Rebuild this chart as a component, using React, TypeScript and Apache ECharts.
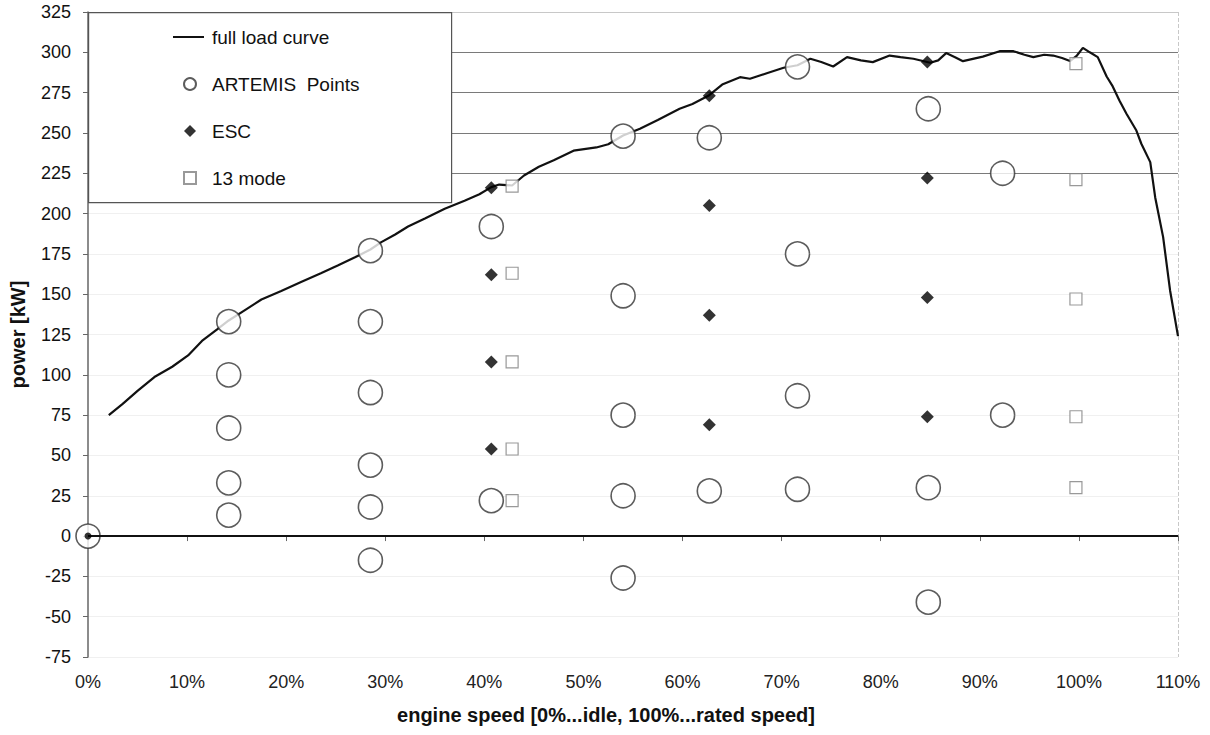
import React, { useEffect, useRef } from "react";
import * as echarts from "echarts";

// full load curve: [engine speed %, power kW]
const fullLoadCurve: [number, number][] = [
  [2.1, 75], [3.5, 82], [5, 90], [6.7, 98.6], [8.5, 105], [10.1, 112], [11.5, 121],
  [13, 128], [14.2, 133.7], [15.8, 140], [17.5, 146.7], [19.5, 152], [21.5, 157.5],
  [23.5, 163], [25.2, 167.8], [27, 173], [28.5, 177.7], [29.6, 182.3], [31, 187],
  [32.3, 192], [34, 197], [36, 203], [38, 208], [39.5, 212], [40.7, 216.4], [41.5, 218],
  [42.8, 217.4], [44, 223.6], [45.5, 229], [47, 233], [49, 239], [51.3, 241],
  [52.5, 243], [54, 248.4], [55.7, 252.6], [57.5, 258], [59.7, 265], [61, 268],
  [62.6, 273], [64, 280], [65.8, 284.6], [66.8, 283.6], [68.5, 287], [70.2, 290.4],
  [71.6, 292], [72.9, 296], [74, 294], [75.2, 291.2], [76.6, 297], [78, 295],
  [79.2, 293.9], [80.9, 298], [82, 297], [83.3, 296], [85, 293.5], [85.8, 295],
  [86.6, 299.5], [87.5, 297], [88.3, 294.5], [90.3, 297.3], [92, 300.7], [93.4, 300.7],
  [94.5, 298.5], [95.4, 297], [96.5, 298.5], [97.4, 298], [98.3, 296.5], [99.1, 294.6],
  [99.8, 298], [100.4, 302.8], [101.1, 300], [101.9, 297], [102.8, 285], [103.4, 279],
  [104.1, 270], [104.8, 261.9], [105.8, 251.5], [106.3, 243.3], [107.2, 231.9],
  [107.7, 210], [108.5, 185.4], [109.2, 152.3], [110, 124],
];

const artemisPoints: [number, number][] = [
  [0, 0],
  [14.2, 133], [14.2, 100], [14.2, 67], [14.2, 33], [14.2, 13],
  [28.5, 177], [28.5, 133], [28.5, 89], [28.5, 44], [28.5, 18], [28.5, -15],
  [40.7, 192], [40.7, 22],
  [54, 248], [54, 149], [54, 75], [54, 25], [54, -26],
  [62.7, 247], [62.7, 28],
  [71.6, 291], [71.6, 175], [71.6, 87], [71.6, 29],
  [84.8, 265], [84.8, 30], [84.8, -41],
  [92.3, 225], [92.3, 75],
];

const escPoints: [number, number][] = [
  [0, 0],
  [40.7, 216], [40.7, 162], [40.7, 108], [40.7, 54],
  [62.7, 273], [62.7, 205], [62.7, 137], [62.7, 69],
  [84.7, 294], [84.7, 222], [84.7, 148], [84.7, 74],
];

const mode13Points: [number, number][] = [
  [42.8, 217], [42.8, 163], [42.8, 108], [42.8, 54], [42.8, 22],
  [99.7, 293], [99.7, 221], [99.7, 147], [99.7, 74], [99.7, 30],
];

const legendNames = ["full load curve", "ARTEMIS  Points", "ESC", "13 mode"];

const FONT = "'Liberation Sans', Arial, sans-serif";

// y split line colours, from -75 up to 325
const ySplitColors = [
  "#f0f0f0", "#f0f0f0", "#f0f0f0", "#f0f0f0", "#f0f0f0", "#f0f0f0", "#f0f0f0",
  "#f0f0f0", "#f0f0f0", "#f0f0f0", "#f0f0f0", "#f0f0f0",
  "#7a7a7a", "#7a7a7a", "#7a7a7a", "#7a7a7a", "#c8c8c8",
];
const xSplitColors = [
  "rgba(0,0,0,0)", "rgba(0,0,0,0)", "rgba(0,0,0,0)", "rgba(0,0,0,0)",
  "rgba(0,0,0,0)", "rgba(0,0,0,0)", "rgba(0,0,0,0)", "rgba(0,0,0,0)",
  "rgba(0,0,0,0)", "rgba(0,0,0,0)", "rgba(0,0,0,0)", "#c8c8c8",
];

export default function App() {
  const ref = useRef<HTMLDivElement>(null);
  useEffect(() => {
    document.body.style.margin = "0";
    if (!ref.current) return;
    const chart = echarts.init(ref.current, undefined, { renderer: "svg" });
    const legendText = { fontFamily: FONT, fontSize: 19, color: "#111", lineHeight: 20 };
    chart.setOption({
      animation: false,
      backgroundColor: "#ffffff",
      textStyle: { fontFamily: FONT },
      grid: { left: 88, right: 32, top: 12, bottom: 78, containLabel: false },
      graphic: [
        {
          type: "rect",
          left: 88,
          top: 12,
          shape: { width: 363, height: 190 },
          style: { fill: "#ffffff", stroke: "#555555", lineWidth: 1.2 },
          z: 3,
        },
      ],
      legend: [
        {
          orient: "vertical",
          left: 172,
          top: 27,
          padding: 0,
          itemWidth: 31,
          itemHeight: 12,
          selectedMode: false,
          z: 4,
          data: [
            { name: legendNames[0], itemStyle: { color: "rgba(0,0,0,0)", borderWidth: 0 } },
          ],
          textStyle: { ...legendText, padding: [0, 0, 0, 3] },
        },
        {
          orient: "vertical",
          left: 183,
          top: 74,
          padding: 0,
          itemWidth: 12,
          itemHeight: 12,
          itemGap: 27,
          selectedMode: false,
          z: 4,
          data: [
            { name: legendNames[1], icon: "circle" },
            { name: legendNames[2], icon: "diamond" },
            { name: legendNames[3], icon: "rect" },
          ],
          textStyle: { ...legendText, padding: [0, 0, 0, 11] },
        },
      ],
      xAxis: {
        type: "value",
        min: 0,
        max: 110,
        interval: 10,
        name: "engine speed [0%...idle, 100%...rated speed]",
        nameLocation: "middle",
        nameGap: 48,
        nameTextStyle: { fontFamily: FONT, fontSize: 20, fontWeight: "bold", color: "#111", padding: [0, 54, 0, 0] },
        axisLine: { show: true, lineStyle: { color: "#666", width: 1.5 } },
        axisTick: { show: true, length: 5, lineStyle: { color: "#666" } },
        axisLabel: { fontFamily: FONT, fontSize: 18, color: "#222", margin: 16, formatter: (v: number) => `${v}%` },
        splitLine: { show: true, lineStyle: { color: xSplitColors, type: "dashed", width: 1 } },
      },
      yAxis: {
        type: "value",
        min: -75,
        max: 325,
        interval: 25,
        name: "power [kW]",
        nameLocation: "middle",
        nameRotate: 90,
        nameGap: 60,
        nameTextStyle: { fontFamily: FONT, fontSize: 20, fontWeight: "bold", color: "#111" },
        axisLine: { show: true, lineStyle: { color: "#666", width: 1.5 } },
        axisTick: { show: true, length: 5, lineStyle: { color: "#666" } },
        axisLabel: { fontFamily: FONT, fontSize: 18, color: "#111", margin: 17 },
        splitLine: { show: true, lineStyle: { color: ySplitColors, width: 1 } },
      },
      series: [
        {
          name: legendNames[0],
          type: "line",
          data: fullLoadCurve,
          showSymbol: false,
          symbol: "none",
          lineStyle: { color: "#111", width: 2.2 },
          itemStyle: { color: "#111" },
          z: 2,
          markLine: {
            silent: true,
            symbol: "none",
            label: { show: false },
            lineStyle: { color: "#111", width: 2, type: "solid" },
            data: [{ yAxis: 0 }],
          },
        },
        {
          name: legendNames[3],
          type: "scatter",
          data: mode13Points,
          symbol: "rect",
          symbolSize: 12,
          itemStyle: { color: "#ffffff", borderColor: "#808080", borderWidth: 1.2 },
          z: 3,
        },
        {
          name: legendNames[1],
          type: "scatter",
          data: artemisPoints,
          symbol: "circle",
          symbolSize: 24,
          itemStyle: { color: "#ffffff", borderColor: "#333", borderWidth: 1.6 },
          z: 4,
        },
        {
          name: legendNames[2],
          type: "scatter",
          data: escPoints.map((p, i) =>
            i === 0 ? { value: p, symbol: "circle", symbolSize: 7 } : { value: p }
          ),
          symbol: "diamond",
          symbolSize: 13,
          itemStyle: { color: "#000", borderWidth: 0 },
          z: 5,
        },
      ],
    });
    return () => chart.dispose();
  }, []);
  return <div ref={ref} style={{ width: 1210, height: 735 }} />;
}
